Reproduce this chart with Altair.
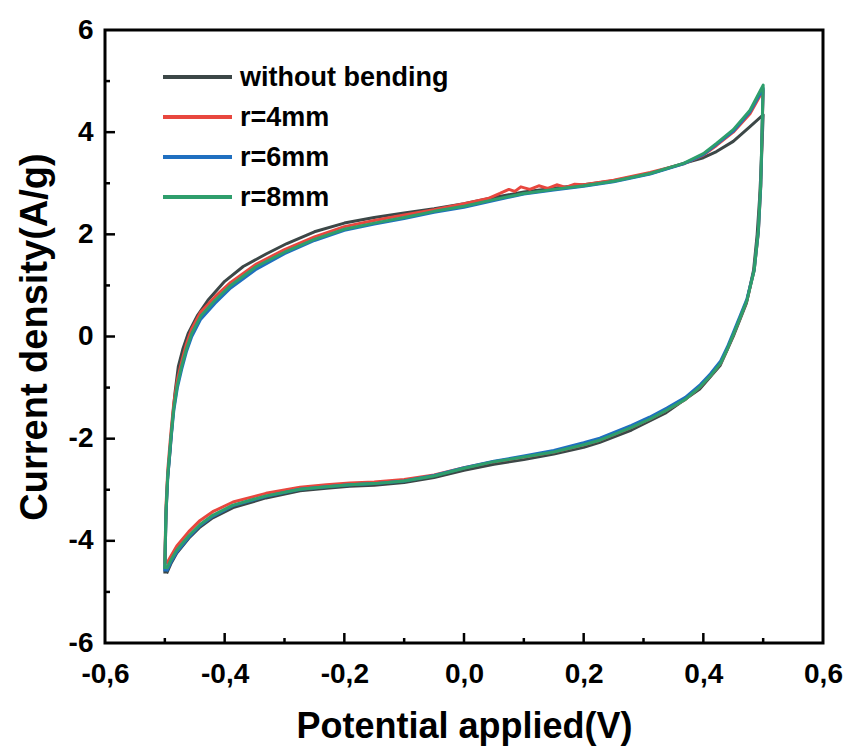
import altair as alt
import pandas as pd

SERIES = ["without bending", "r=4mm", "r=6mm", "r=8mm"]
COLORS = ["#3c4747", "#e8473e", "#1f6fc0", "#2e9e6c"]

# ---- data (cyclic voltammetry loops) ----
GRAY_X = [-0.500, -0.4995, -0.498, -0.4955, -0.491, -0.487, -0.483, -0.4775, -0.470, -0.461,
          -0.445, -0.428, -0.400, -0.369, -0.330, -0.296, -0.250, -0.200, -0.150, -0.100,
          -0.050, 0.000, 0.050, 0.100, 0.150, 0.200, 0.250, 0.311, 0.367, 0.400,
          0.422, 0.450, 0.478, 0.500,
          0.497, 0.494, 0.490, 0.484, 0.472, 0.450, 0.428, 0.394, 0.338, 0.280,
          0.227, 0.200, 0.150, 0.100, 0.050, 0.000, -0.050, -0.100, -0.150, -0.191,
          -0.230, -0.274, -0.331, -0.386, -0.420, -0.441, -0.460, -0.480, -0.490, -0.497]
GRAY_Y = [-4.64, -4.30, -3.50, -2.80, -2.22, -1.60, -1.10, -0.59, -0.25, 0.06,
          0.42, 0.71, 1.08, 1.37, 1.62, 1.82, 2.05, 2.22, 2.33, 2.42,
          2.50, 2.60, 2.72, 2.83, 2.90, 2.97, 3.05, 3.19, 3.39, 3.50,
          3.62, 3.82, 4.11, 4.34,
          3.40, 2.70, 2.00, 1.30, 0.65, 0.00, -0.57, -1.03, -1.49, -1.83,
          -2.07, -2.17, -2.30, -2.41, -2.50, -2.62, -2.76, -2.86, -2.91, -2.93,
          -2.97, -3.02, -3.16, -3.35, -3.55, -3.73, -3.95, -4.24, -4.45, -4.64]

X_FWD = [-0.500, -0.4995, -0.498, -0.495, -0.490, -0.485, -0.479, -0.472, -0.464, -0.455,
         -0.440, -0.416, -0.390, -0.347, -0.300, -0.250, -0.200, -0.150, -0.100, -0.050,
         0.000, 0.050, 0.100, 0.150, 0.200, 0.250, 0.311, 0.367, 0.400, 0.422,
         0.450, 0.478, 0.500]
X_REV = [0.498, 0.496, 0.492, 0.485, 0.473, 0.462, 0.451, 0.440, 0.429, 0.412,
         0.395, 0.370, 0.339, 0.310, 0.280, 0.227, 0.200, 0.150, 0.100, 0.050,
         0.000, -0.050, -0.100, -0.150, -0.191, -0.230, -0.274, -0.331, -0.386, -0.420,
         -0.441, -0.460, -0.480, -0.490, -0.497]

GREEN_FWD = [-4.55, -4.20, -3.40, -2.70, -2.00, -1.40, -0.95, -0.59, -0.25, 0.06,
             0.40, 0.71, 1.00, 1.37, 1.65, 1.90, 2.10, 2.22, 2.33, 2.45,
             2.55, 2.68, 2.80, 2.88, 2.95, 3.04, 3.19, 3.39, 3.58, 3.78,
             4.05, 4.43, 4.92]
GREEN_REV = [4.00, 3.00, 2.08, 1.30, 0.71, 0.38, 0.06, -0.25, -0.52, -0.77,
             -0.98, -1.23, -1.44, -1.62, -1.78, -2.03, -2.12, -2.26, -2.36, -2.45,
             -2.58, -2.73, -2.83, -2.88, -2.90, -2.94, -2.99, -3.12, -3.30, -3.50,
             -3.68, -3.90, -4.18, -4.38, -4.55]

BLUE_FWD = [-4.60, -4.25, -3.45, -2.75, -2.05, -1.45, -1.00, -0.65, -0.30, 0.00,
            0.34, 0.65, 0.95, 1.32, 1.62, 1.88, 2.08, 2.20, 2.31, 2.43,
            2.53, 2.66, 2.79, 2.87, 2.94, 3.03, 3.18, 3.38, 3.56, 3.76,
            4.02, 4.40, 4.86]
BLUE_REV = [3.95, 2.95, 2.05, 1.30, 0.74, 0.42, 0.10, -0.21, -0.48, -0.73,
            -0.94, -1.19, -1.40, -1.58, -1.74, -1.99, -2.08, -2.23, -2.34, -2.44,
            -2.57, -2.72, -2.83, -2.88, -2.90, -2.94, -2.99, -3.13, -3.31, -3.52,
            -3.70, -3.93, -4.22, -4.42, -4.60]

RED_X_FWD = [-0.500, -0.4995, -0.498, -0.495, -0.490, -0.485, -0.479, -0.472, -0.464, -0.455,
             -0.440, -0.416, -0.390, -0.347, -0.300, -0.250, -0.200, -0.150, -0.100, -0.050,
             0.000, 0.040, 0.060, 0.075, 0.085, 0.095, 0.110, 0.125, 0.140, 0.155,
             0.170, 0.185, 0.200, 0.250, 0.311, 0.367, 0.400, 0.422, 0.450, 0.478,
             0.500]
RED_FWD = [-4.45, -4.10, -3.30, -2.60, -1.90, -1.30, -0.85, -0.50, -0.15, 0.15,
           0.48, 0.78, 1.06, 1.42, 1.70, 1.95, 2.15, 2.27, 2.38, 2.48,
           2.60, 2.70, 2.80, 2.88, 2.84, 2.93, 2.88, 2.95, 2.90, 2.97,
           2.92, 2.98, 2.97, 3.06, 3.21, 3.38, 3.55, 3.74, 4.00, 4.36,
           4.82]
RED_REV = [3.95, 2.95, 2.05, 1.30, 0.71, 0.38, 0.06, -0.25, -0.52, -0.77,
           -0.98, -1.23, -1.44, -1.62, -1.78, -2.03, -2.12, -2.26, -2.36, -2.45,
           -2.57, -2.71, -2.80, -2.85, -2.87, -2.90, -2.95, -3.07, -3.24, -3.43,
           -3.60, -3.82, -4.10, -4.30, -4.45]

X_TICKS = [-0.6, -0.4, -0.2, 0.0, 0.2, 0.4, 0.6]
Y_TICKS = [-6, -4, -2, 0, 2, 4, 6]
X_MAJOR_IN = [-0.4, -0.2, 0.0, 0.2, 0.4]
X_MINOR_IN = [-0.5, -0.3, -0.1, 0.1, 0.3, 0.5]
Y_MAJOR_IN = [-4, -2, 0, 2, 4]
Y_MINOR_IN = [-5, -3, -1, 1, 3, 5]

loops = {
    "without bending": (GRAY_X, GRAY_Y),
    "r=4mm": (RED_X_FWD + X_REV, RED_FWD + RED_REV),
    "r=6mm": (X_FWD + X_REV, BLUE_FWD + BLUE_REV),
    "r=8mm": (X_FWD + X_REV, GREEN_FWD + GREEN_REV),
}
rows = []
for name in SERIES:
    xs, ys = loops[name]
    assert len(xs) == len(ys), name
    for i, (xv, yv) in enumerate(zip(xs, ys)):
        rows.append({"series": name, "x": xv, "y": yv, "i": i})
df = pd.DataFrame(rows)

W, H = 718, 613
FONT = "Liberation Sans"

xscale = alt.Scale(domain=[-0.6, 0.6], nice=False, zero=False)
yscale = alt.Scale(domain=[-6, 6], nice=False, zero=False)

xaxis = alt.Axis(
    values=X_TICKS,
    labelExpr="(datum.value < 0 ? '-' : '') + replace(format(abs(datum.value), '.1f'), '.', ',')",
    title="Potential applied(V)", domain=False, ticks=False, grid=False,
    labelFont=FONT, labelFontSize=28, labelFontWeight="bold", labelColor="black",
    labelPadding=17, labelFlush=False, labelOverlap=False,
    titleFont=FONT, titleFontSize=36, titleFontWeight="bold", titleColor="black",
    titleY=94, titleBaseline="alphabetic",
)
yaxis = alt.Axis(
    values=Y_TICKS,
    labelExpr="(datum.value < 0 ? '-' : '') + format(abs(datum.value), 'd')",
    title="Current density(A/g)", domain=False, ticks=False, grid=False,
    labelFont=FONT, labelFontSize=28, labelFontWeight="bold", labelColor="black",
    labelPadding=12, labelFlush=False, labelOverlap=False,
    titleFont=FONT, titleFontSize=38, titleFontWeight="bold", titleColor="black",
    titleX=-70, titleY=H / 2, titleBaseline="middle",
)

color = alt.Color("series:N", scale=alt.Scale(domain=SERIES, range=COLORS), legend=None)

layers = []
for s in SERIES:
    layers.append(
        alt.Chart(df).transform_filter(alt.datum.series == s)
        .mark_line(strokeWidth=3, strokeJoin="round")
        .encode(
            x=alt.X("x:Q", scale=xscale, axis=xaxis),
            y=alt.Y("y:Q", scale=yscale, axis=yaxis),
            order=alt.Order("i:Q"),
            color=color,
        )
    )

# inward ticks on bottom and left
for vals, ln in ((X_MAJOR_IN, 10), (X_MINOR_IN, 5)):
    layers.append(
        alt.Chart(pd.DataFrame({"x": vals})).mark_rule(color="black", strokeWidth=2.5)
        .encode(x=alt.X("x:Q", scale=xscale, axis=xaxis),
                y=alt.value(H), y2=alt.value(H - ln))
    )
for vals, ln in ((Y_MAJOR_IN, 10), (Y_MINOR_IN, 5)):
    layers.append(
        alt.Chart(pd.DataFrame({"y": vals})).mark_rule(color="black", strokeWidth=2.5)
        .encode(y=alt.Y("y:Q", scale=yscale, axis=yaxis),
                x=alt.value(0), x2=alt.value(ln))
    )

# legend
LEG_Y0, LEG_DY = 47, 40
for k, s in enumerate(SERIES):
    ldf = pd.DataFrame({"series": [s]})
    layers.append(
        alt.Chart(ldf).mark_rule(strokeWidth=4, color=COLORS[k])
        .encode(x=alt.value(58), x2=alt.value(127), y=alt.value(LEG_Y0 + k * LEG_DY))
    )
    layers.append(
        alt.Chart(ldf).mark_text(font=FONT, fontSize=27, fontWeight="bold", color="black",
                                 align="left", baseline="middle")
        .encode(text="series:N", x=alt.value(135), y=alt.value(LEG_Y0 + k * LEG_DY + 1))
    )

chart = (
    alt.layer(*layers)
    .properties(width=W, height=H,
                padding={"left": 105, "top": 30, "right": 25, "bottom": 104},
                autosize=alt.AutoSizeParams(type="none"),
                background="white")
    .configure_view(stroke="black", strokeWidth=3)
)

chart.save("out.html", embed_options={"renderer": "svg", "actions": False})
